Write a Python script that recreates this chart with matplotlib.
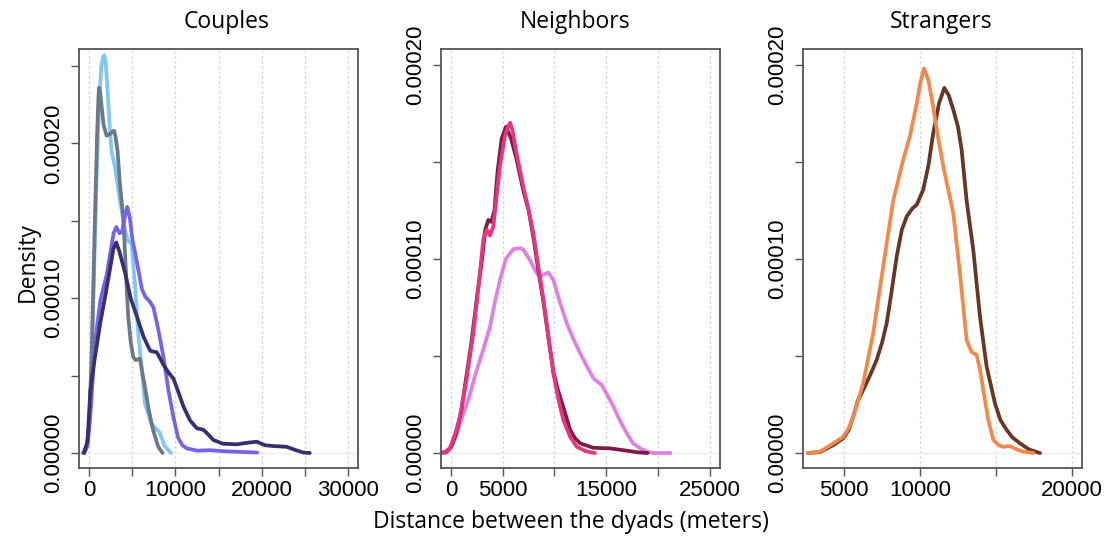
import matplotlib
matplotlib.use("Agg")
import matplotlib.pyplot as plt

plt.rcParams["font.family"] = ["Liberation Sans", "DejaVu Sans"]

# panel titles and axis tick labels
titles = ["Couples", "Neighbors", "Strangers"]
y_label_vals = [0.0, 0.0001, 0.0002]
y_label_text = ["0.00000", "0.00010", "0.00020"]

# ---- Couples: four density curves ----
cp_sky_x = [-800, -400, -100, 200, 500, 800, 1100, 1400, 1600, 1750, 1900, 2050, 2400, 2580,
            2970, 3560, 4140, 4520, 4900, 5290, 5680, 6060, 6450, 7220, 8190, 8700, 9300, 9500]
cp_sky_y = [0, 0.000002, 0.000012, 0.00004, 0.000105, 0.00017, 0.000222, 0.00025, 0.000256,
            0.000257, 0.000252, 0.00024, 0.000208, 0.000195, 0.000185, 0.000163, 0.000144,
            0.000137, 0.000135, 0.00011, 0.000077, 0.000056, 0.000032, 0.000019, 0.000013,
            0.000005, 0.000001, 0]

cp_grey_x = [-700, -300, 0, 300, 600, 900, 1050, 1120, 1250, 1350, 1650, 2000, 2400, 2750,
             2900, 3050, 3280, 3550, 3940, 4130, 4350, 4520, 4800, 5100, 5400, 5870, 6150,
             6450, 6900, 7300, 7610, 8000, 8500]
cp_grey_y = [0, 0.000005, 0.00002, 0.00007, 0.00014, 0.000205, 0.000229, 0.000236, 0.000233,
             0.000228, 0.000212, 0.000205, 0.000206, 0.000208, 0.000208, 0.000204, 0.000195,
             0.000174, 0.000152, 0.000131, 0.000105, 0.000088, 0.000072, 0.000062, 0.00006,
             0.000061, 0.000052, 0.000043, 0.000028, 0.000017, 0.000011, 0.000004, 0]

cp_purple_x = [-600, -200, 200, 600, 900, 1300, 2050, 2400, 2820, 3130, 3500, 3800, 4100,
               4400, 4700, 5000, 5330, 5700, 6100, 6490, 7000, 7450, 8000, 8610, 9200, 9770,
               10300, 10800, 11320, 12500, 14000, 15500, 17000, 18500, 19500]
cp_purple_y = [0, 0.000005, 0.00003, 0.000068, 0.000082, 0.000099, 0.000116, 0.000128,
               0.000142, 0.000146, 0.000142, 0.000143, 0.000152, 0.000159, 0.000152, 0.000138,
               0.000129, 0.000118, 0.000106, 0.000101, 0.000098, 0.000094, 0.00008, 0.000062,
               0.00004, 0.000023, 0.00001, 0.000005, 0.000003, 0.0000015, 0.0000018,
               0.0000012, 0.0000008, 0.0000005, 0.0000003]

cp_navy_x = [-600, -200, 115, 600, 1270, 1900, 2430, 2800, 3130, 3500, 4170, 4800, 5530,
             6300, 7070, 7840, 8610, 9200, 9770, 10300, 10930, 11700, 12480, 13250, 13800,
             14400, 15500, 17110, 18200, 19430, 20400, 21360, 22900, 23900, 24830, 25600]
cp_navy_y = [0, 0.000008, 0.00004, 0.00006, 0.000084, 0.000103, 0.00012, 0.000132, 0.000136,
             0.00013, 0.000116, 0.0001, 0.000088, 0.000075, 0.000066, 0.000065, 0.000057,
             0.000052, 0.000048, 0.00004, 0.00003, 0.000021, 0.000016, 0.000015, 0.000012,
             0.0000084, 0.000006, 0.0000056, 0.0000065, 0.0000073, 0.000005, 0.0000045,
             0.000004, 0.000002, 0.0000003, 0]

# ---- Neighbors: three density curves ----
nb_maroon_x = [-1000, -500, 0, 500, 1000, 1500, 2000, 2500, 3000, 3300, 3610, 3900, 4200,
               4500, 4900, 5320, 5800, 6300, 6990, 7500, 7960, 8500, 8930, 9400, 9890, 10300,
               10540, 11000, 11510, 12000, 12480, 13760, 15380, 16990, 18000, 19000]
nb_maroon_y = [0, 0.0000005, 0.000003, 0.00001, 0.000022, 0.00004, 0.000058, 0.00008, 0.0001,
               0.000115, 0.00012, 0.000119, 0.000125, 0.000145, 0.000162, 0.000168, 0.000162,
               0.000152, 0.000135, 0.000125, 0.000111, 0.000092, 0.000078, 0.00006, 0.000042,
               0.000033, 0.000029, 0.000021, 0.000012, 0.0000075, 0.000005, 0.0000027,
               0.0000024, 0.0000012, 0.0000004, 0]

nb_pink_x = [-1000, -500, -100, 400, 870, 1500, 2160, 2700, 3120, 3450, 3770, 4090, 4400,
             4740, 5200, 5500, 5710, 5950, 6300, 6990, 7500, 7960, 8930, 9890, 10400, 10860,
             11500, 12160, 13000, 13900]
nb_pink_y = [0, 0.0000008, 0.0000026, 0.00001, 0.0000187, 0.000038, 0.0000617, 0.000088,
             0.00011, 0.000115, 0.000112, 0.0001166, 0.000132, 0.000148, 0.000163, 0.000168,
             0.00017, 0.000166, 0.000155, 0.000137, 0.000125, 0.000113, 0.0000789, 0.000041,
             0.000027, 0.000017, 0.0000085, 0.0000032, 0.000001, 0]

nb_orchid_x = [-500, 0, 400, 870, 1700, 2490, 3100, 3770, 4250, 4740, 5300, 6030, 6700, 7000,
               7600, 8290, 8610, 9000, 9410, 9890, 10500, 11190, 11800, 12480, 13100, 13760,
               14570, 15100, 15700, 16300, 16990, 17600, 18280, 19000, 19570, 21200]
nb_orchid_y = [0, 0.000003, 0.000008, 0.0000153, 0.000028, 0.0000428, 0.000053, 0.000065,
               0.000078, 0.0000892, 0.0001, 0.000105, 0.0001055, 0.0001046, 0.0000995,
               0.0000926, 0.0000909, 0.000092, 0.0000929, 0.0000892, 0.000078, 0.0000668,
               0.000059, 0.0000514, 0.000045, 0.0000385, 0.000035, 0.00003, 0.0000239,
               0.000017, 0.0000101, 0.000005, 0.0000024, 0.0000006, 0, 0]

# ---- Strangers: two density curves ----
st_orange_x = [2600, 3400, 4280, 4940, 5300, 5600, 6250, 6910, 7570, 8230, 8890, 9330, 9780,
               10000, 10260, 10550, 10870, 11200, 11530, 12190, 12630, 13070, 13400, 13730,
               13950, 14170, 14500, 14830, 15200, 15490, 15930, 16400, 16810, 17470]
st_orange_y = [0, 0.0000007, 0.000005, 0.0000084, 0.000013, 0.0000187, 0.0000359, 0.0000617,
               0.000096, 0.00013, 0.000151, 0.000163, 0.00018, 0.00019, 0.000198, 0.000192,
               0.000178, 0.000162, 0.0001476, 0.0001236, 0.0000926, 0.0000582, 0.000052,
               0.0000505, 0.000043, 0.0000325, 0.000017, 0.0000067, 0.000004, 0.0000032,
               0.0000036, 0.0000018, 0.0000007, 0]

st_brown_x = [2600, 3400, 4280, 4940, 5300, 5600, 5900, 6250, 6700, 7140, 7500, 7800, 8100,
              8460, 8800, 9120, 9500, 9780, 10210, 10550, 10870, 11250, 11600, 11900, 12190,
              12500, 12740, 13070, 13510, 13950, 14390, 14940, 15300, 15710, 16100, 16590,
              17200, 17910]
st_brown_y = [0, 0.0000005, 0.0000041, 0.0000076, 0.000012, 0.000019, 0.000027, 0.0000325,
              0.00004, 0.000048, 0.000057, 0.0000669, 0.000082, 0.0001012, 0.000115, 0.0001218,
              0.000126, 0.0001278, 0.0001356, 0.000148, 0.0001648, 0.00018, 0.000188, 0.000184,
              0.0001768, 0.000168, 0.0001562, 0.00013, 0.0001046, 0.0000703, 0.0000445,
              0.0000256, 0.000017, 0.0000119, 0.000008, 0.000005, 0.0000018, 0]

panels = [
    dict(curves=[(cp_sky_x, cp_sky_y, "#80C8F2"), (cp_grey_x, cp_grey_y, "#6A7A88"),
                 (cp_purple_x, cp_purple_y, "#7763EA"), (cp_navy_x, cp_navy_y, "#37306E")],
         xlim=(-1200, 31200), ylim=(-0.0000097, 0.000261),
         xticks=list(range(0, 30001, 5000)), xlabels=[0, 10000, 20000, 30000],
         yticks=[0, 0.00005, 0.0001, 0.00015, 0.0002, 0.00025]),
    dict(curves=[(nb_orchid_x, nb_orchid_y, "#DE80E4"), (nb_maroon_x, nb_maroon_y, "#7A1C45"),
                 (nb_pink_x, nb_pink_y, "#E8357D")],
         xlim=(-970, 26000), ylim=(-0.0000077, 0.000208),
         xticks=list(range(0, 25001, 5000)), xlabels=[0, 5000, 15000, 25000],
         yticks=[0, 0.00005, 0.0001, 0.00015, 0.0002]),
    dict(curves=[(st_brown_x, st_brown_y, "#673624"), (st_orange_x, st_orange_y, "#F2894A")],
         xlim=(2280, 20680), ylim=(-0.0000077, 0.000208),
         xticks=[5000, 10000, 15000, 20000], xlabels=[5000, 10000, 20000],
         yticks=[0, 0.00005, 0.0001, 0.00015, 0.0002]),
]

W, H = 1108, 542
fig = plt.figure(figsize=(W / 100, H / 100), dpi=100)
lefts = [79, 441, 803]
title_x = [227, 575, 941]

for i, p in enumerate(panels):
    ax = fig.add_axes([lefts[i] / W, (H - 468) / H, 279 / W, 419 / H])
    for t in p["xticks"]:
        ax.axvline(t, color="#c8c8c8", lw=0.9, ls=(0, (1.5, 2.5)), zorder=0)
    ax.axhline(0, color="#eeeeee", lw=1.0, zorder=0)
    for xs, ys, c in p["curves"]:
        ax.plot(xs, ys, color=c, lw=2.7, solid_joinstyle="round", solid_capstyle="round")
    ax.set_xlim(*p["xlim"])
    ax.set_ylim(*p["ylim"])
    ax.set_xticks(p["xticks"])
    ax.set_xticklabels([str(v) if v in p["xlabels"] else "" for v in p["xticks"]])
    ax.set_yticks(p["yticks"])
    ax.set_yticklabels([y_label_text[y_label_vals.index(v)] if v in y_label_vals else ""
                        for v in p["yticks"]], rotation=90, va="center")
    ax.tick_params(direction="out", length=6, width=1, color="#555555",
                   labelsize=16, pad=3)
    ax.tick_params(axis="y", pad=5)
    for s in ax.spines.values():
        s.set_color("#555555")
        s.set_linewidth(1.3)
    fig.text(title_x[i] / W, 1 - 22 / H, titles[i], ha="center", va="center",
             fontsize=16.5, family="Open Sans")

fig.text(28 / W, 1 - 262 / H, "Density", rotation=90, ha="center", va="center",
         fontsize=16.5, family="Open Sans")
fig.text(571 / W, 1 - 522 / H, "Distance between the dyads (meters)", ha="center",
         va="center", fontsize=16.5, family="Open Sans")

fig.savefig("out.png", dpi=100)
